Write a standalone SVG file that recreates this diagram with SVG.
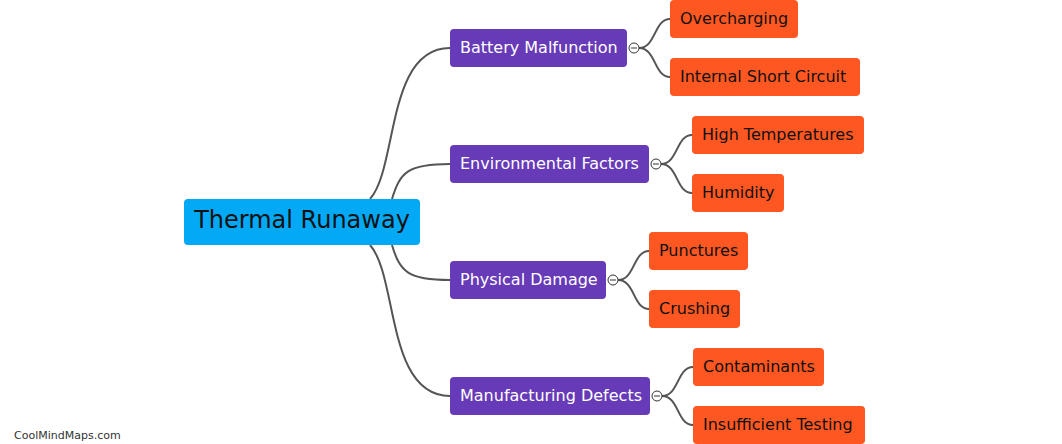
<svg xmlns="http://www.w3.org/2000/svg" width="1062" height="444" viewBox="0 0 1062 444">
<style>
text{font-family:"DejaVu Sans","Verdana",sans-serif;dominant-baseline:central}
.root rect{fill:#03A9F4}
.root text{font-size:24px;fill:#111}
.mid rect{fill:#673AB7}
.mid text{font-size:16px;fill:#fff}
.leaf rect{fill:#FF5722}
.leaf text{font-size:16px;fill:#111}
.conn path{fill:none;stroke:#555;stroke-width:2}
.tog circle{fill:#fff;stroke:#333;stroke-width:1}
.tog line{stroke:#333;stroke-width:1}
.wm{font-size:11px;fill:#333}
</style>
<rect width="1062" height="444" fill="#fff"/>
<g id="connectors" class="conn">
<path d="M370,199 C398,168 386,48 450,48"/>
<path d="M392,199 C400,172 408,164 450,164"/>
<path d="M392,245 C400,272 408,280 450,280"/>
<path d="M370,245 C398,276 386,396 450,396"/>
<path d="M639,48 C656,48 654,19 670,19"/>
<path d="M639,48 C656,48 654,77 670,77"/>
<path d="M661,164 C678,164 676,135 692,135"/>
<path d="M661,164 C678,164 676,193 692,193"/>
<path d="M618,280 C635,280 633,251 649,251"/>
<path d="M618,280 C635,280 633,309 649,309"/>
<path d="M662,396 C679,396 677,367 693,367"/>
<path d="M662,396 C679,396 677,425 693,425"/>
</g>
<g id="n-root" class="root"><rect x="184" y="199" width="236" height="46" rx="4"/><text x="302" y="220" text-anchor="middle">Thermal Runaway</text></g>
<g id="n-battery" class="mid"><rect x="450" y="29" width="177" height="38" rx="4"/><text x="460" y="47">Battery Malfunction</text></g>
<g id="n-env" class="mid"><rect x="450" y="145" width="199" height="38" rx="4"/><text x="460" y="163">Environmental Factors</text></g>
<g id="n-phys" class="mid"><rect x="450" y="261" width="156" height="38" rx="4"/><text x="460" y="279">Physical Damage</text></g>
<g id="n-manu" class="mid"><rect x="450" y="377" width="200" height="38" rx="4"/><text x="460" y="395">Manufacturing Defects</text></g>
<g id="n-over" class="leaf"><rect x="670" y="0" width="128" height="38" rx="4"/><text x="680" y="18">Overcharging</text></g>
<g id="n-short" class="leaf"><rect x="670" y="58" width="190" height="38" rx="4"/><text x="680" y="76">Internal Short Circuit</text></g>
<g id="n-high" class="leaf"><rect x="692" y="116" width="172" height="38" rx="4"/><text x="702" y="134">High Temperatures</text></g>
<g id="n-hum" class="leaf"><rect x="692" y="174" width="92" height="38" rx="4"/><text x="702" y="192">Humidity</text></g>
<g id="n-punct" class="leaf"><rect x="649" y="232" width="99" height="38" rx="4"/><text x="659" y="250">Punctures</text></g>
<g id="n-crush" class="leaf"><rect x="649" y="290" width="91" height="38" rx="4"/><text x="659" y="308">Crushing</text></g>
<g id="n-cont" class="leaf"><rect x="693" y="348" width="131" height="38" rx="4"/><text x="703" y="366">Contaminants</text></g>
<g id="n-test" class="leaf"><rect x="693" y="406" width="172" height="38" rx="4"/><text x="703" y="424">Insufficient Testing</text></g>
<g id="toggles" class="tog">
<g><circle cx="634" cy="48" r="5"/><line x1="631" y1="48" x2="637" y2="48"/></g>
<g><circle cx="656" cy="164" r="5"/><line x1="653" y1="164" x2="659" y2="164"/></g>
<g><circle cx="613" cy="280" r="5"/><line x1="610" y1="280" x2="616" y2="280"/></g>
<g><circle cx="657" cy="396" r="5"/><line x1="654" y1="396" x2="660" y2="396"/></g>
</g>
<text class="wm" x="14" y="435">CoolMindMaps.com</text>
</svg>
